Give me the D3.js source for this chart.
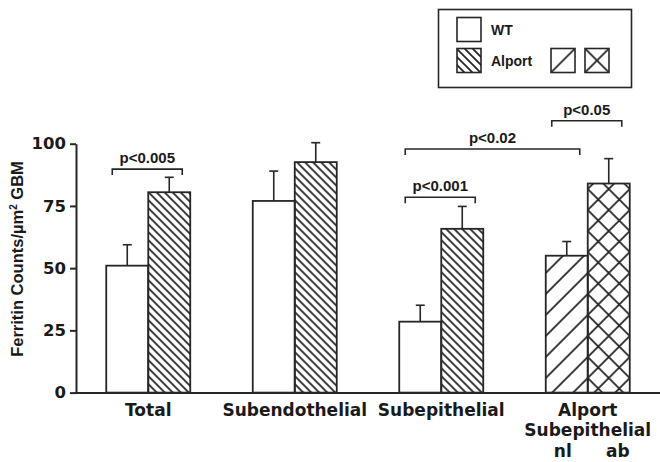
<!DOCTYPE html>
<html>
<head>
<meta charset="utf-8">
<script src="https://cdn.jsdelivr.net/npm/d3@7"></script>
<style>
  body { margin: 0; background: #fff; }
  text { fill: #1a1a1a; }
</style>
</head>
<body>
<div class="chart"></div>
<script>
// data
var categories = ["Total", "Subendothelial", "Subepithelial", "Alport Subepithelial"];
var leftMeans = [51, 77, 28.5, 55];
var leftSem = [8.4, 12, 6.6, 5.7];
var rightMeans = [80.5, 92.6, 65.8, 84];
var rightSem = [6, 7.8, 9, 10];
var leftFill = ["wt", "wt", "wt", "nl"];
var rightFill = ["alport", "alport", "alport", "ab"];
var subLabels = ["nl", "ab"];
var yTicks = [0, 25, 50, 75, 100];
// significance brackets: [group, bar] to [group, bar], at a level in y units
var brackets = [
  { from: [0, 0], to: [0, 1], level: 89.8, label: "p<0.005" },
  { from: [2, 0], to: [2, 1], level: 78.5, label: "p<0.001" },
  { from: [2, 0], to: [3, 0], level: 97.9, label: "p<0.02" },
  { from: [3, 0], to: [3, 1], level: 109.2, label: "p<0.05" }
];

var W = 660, H = 462;
var ink = "#262626";

var svg = d3.select(".chart").append("svg")
    .attr("width", W)
    .attr("height", H);

var defs = svg.append("defs");

// hatch patterns
var pAlport = defs.append("pattern")
    .attr("id", "alport")
    .attr("patternUnits", "userSpaceOnUse")
    .attr("width", 8).attr("height", 8);
pAlport.append("path")
    .attr("d", "M-1,-1L9,9M-3,5L3,11M5,-3L11,3")
    .attr("stroke", ink).attr("stroke-width", 1.8);

var pNl = defs.append("pattern")
    .attr("id", "nl")
    .attr("patternUnits", "userSpaceOnUse")
    .attr("width", 21).attr("height", 21);
pNl.append("path")
    .attr("d", "M-1,22L22,-1M-6,6L6,-6M15,27L27,15")
    .attr("stroke", ink).attr("stroke-width", 1.8);

var pAb = defs.append("pattern")
    .attr("id", "ab")
    .attr("patternUnits", "userSpaceOnUse")
    .attr("width", 21).attr("height", 21);
pAb.append("path")
    .attr("d", "M-1,22L22,-1M-6,6L6,-6M15,27L27,15M-1,-1L22,22M-6,15L6,27M15,-6L27,6")
    .attr("stroke", ink).attr("stroke-width", 1.8);

function fillOf(k) {
  return k == "wt" ? "#fff" : "url(#" + k + ")";
}

var x = d3.scaleBand()
    .domain(categories)
    .range([75, 661])
    .padding(0);

var inner = d3.scaleBand()
    .domain([0, 1])
    .range([-42, 42]);

var y = d3.scaleLinear()
    .domain([0, 100])
    .range([392.6, 143.7]);

function barCenter(g, b) {
  return x(categories[g]) + x.bandwidth() / 2 + inner(b) + inner.bandwidth() / 2;
}

// y axis
var yAxis = d3.axisLeft(y)
    .tickValues(yTicks)
    .tickSize(6)
    .tickSizeOuter(0)
    .tickPadding(4);

var gy = svg.append("g")
    .attr("transform", "translate(76,0)")
    .call(yAxis);
gy.select(".domain").attr("stroke", ink).attr("stroke-width", 2);
gy.selectAll(".tick line").attr("stroke", ink).attr("stroke-width", 2);
gy.selectAll(".tick text")
    .attr("font-family", "DejaVu Sans")
    .attr("font-weight", "bold")
    .attr("font-size", 16.5)
    .attr("fill", "#1a1a1a");

// y label
var ylab = svg.append("text")
    .attr("transform", "translate(23,259) rotate(-90)")
    .attr("text-anchor", "middle")
    .attr("font-family", "Liberation Sans, Arial")
    .attr("font-weight", "bold")
    .attr("font-size", 16.5);
ylab.append("tspan").text("Ferritin Counts/\u00b5m");
ylab.append("tspan").attr("font-size", 10).attr("dy", -6).text("2");
ylab.append("tspan").attr("dy", 6).text(" GBM");

// bars
var rows = categories.map(function (c, i) {
  return [
    { g: i, b: 0, v: leftMeans[i], e: leftSem[i], f: leftFill[i] },
    { g: i, b: 1, v: rightMeans[i], e: rightSem[i], f: rightFill[i] }
  ];
});

var groups = svg.selectAll(".grp")
    .data(rows)
  .enter().append("g")
    .attr("class", "grp")
    .attr("transform", function (d, i) { return "translate(" + (x(categories[i]) + x.bandwidth() / 2) + ",0)"; });

var bars = groups.selectAll(".bar")
    .data(function (d) { return d; })
  .enter().append("g")
    .attr("class", "bar");

// error bars (upper only)
bars.append("line")
    .attr("x1", function (d) { return inner(d.b) + inner.bandwidth() / 2; })
    .attr("x2", function (d) { return inner(d.b) + inner.bandwidth() / 2; })
    .attr("y1", function (d) { return y(d.v); })
    .attr("y2", function (d) { return y(d.v + d.e); })
    .attr("stroke", ink).attr("stroke-width", 1.6);
bars.append("line")
    .attr("x1", function (d) { return inner(d.b) + inner.bandwidth() / 2 - 4.5; })
    .attr("x2", function (d) { return inner(d.b) + inner.bandwidth() / 2 + 4.5; })
    .attr("y1", function (d) { return y(d.v + d.e); })
    .attr("y2", function (d) { return y(d.v + d.e); })
    .attr("stroke", ink).attr("stroke-width", 1.6);

bars.append("rect")
    .attr("x", function (d) { return inner(d.b); })
    .attr("width", inner.bandwidth())
    .attr("y", function (d) { return y(d.v); })
    .attr("height", function (d) { return y(0) - y(d.v); })
    .attr("fill", function (d) { return fillOf(d.f); })
    .attr("stroke", ink)
    .attr("stroke-width", 1.8);

// x axis (baseline)
var xAxis = d3.axisBottom(x).tickSize(0).tickSizeOuter(0).tickFormat("");
var gx = svg.append("g")
    .attr("transform", "translate(0," + y(0) + ")")
    .call(xAxis);
gx.select(".domain").attr("stroke", ink).attr("stroke-width", 2);

// category labels
var labs = svg.selectAll(".catlab")
    .data(categories)
  .enter().append("text")
    .attr("class", "catlab")
    .attr("text-anchor", "middle")
    .attr("font-family", "DejaVu Sans")
    .attr("font-weight", "bold")
    .attr("font-size", 17)
    .attr("x", function (d) { return x(d) + x.bandwidth() / 2; })
    .attr("y", 416);
labs.each(function (d) {
  var parts = d.split(" ");
  var t = d3.select(this);
  parts.forEach(function (p, i) {
    t.append("tspan")
        .attr("x", x(d) + x.bandwidth() / 2)
        .attr("dy", i == 0 ? 0 : 20)
        .text(p);
  });
});
svg.selectAll(".sublab")
    .data(subLabels)
  .enter().append("text")
    .attr("class", "sublab")
    .attr("text-anchor", "middle")
    .attr("font-family", "DejaVu Sans")
    .attr("font-weight", "bold")
    .attr("font-size", 17)
    .attr("x", function (d, i) { return barCenter(3, i) + (i == 0 ? -4 : 9); })
    .attr("y", 457)
    .text(function (d) { return d; });

// significance brackets
var br = svg.selectAll(".br")
    .data(brackets)
  .enter().append("g")
    .attr("class", "br");
br.append("path")
    .attr("d", function (d) {
      var x1 = barCenter(d.from[0], d.from[1]) - 15,
          x2 = barCenter(d.to[0], d.to[1]) + 13,
          yy = y(d.level);
      return "M" + x1 + "," + (yy + 6) + "V" + yy + "H" + x2 + "V" + (yy + 6);
    })
    .attr("fill", "none")
    .attr("stroke", ink)
    .attr("stroke-width", 1.6);
br.append("text")
    .attr("text-anchor", "middle")
    .attr("font-family", "Liberation Sans, Arial")
    .attr("font-weight", "bold")
    .attr("font-size", 15)
    .attr("x", function (d) {
      return (barCenter(d.from[0], d.from[1]) - 15 + barCenter(d.to[0], d.to[1]) + 13) / 2;
    })
    .attr("y", function (d) { return y(d.level) - 6; })
    .text(function (d) { return d.label; });

// legend
var lg = svg.append("g");
lg.append("rect")
    .attr("x", 438.5).attr("y", 9.5)
    .attr("width", 193).attr("height", 78)
    .attr("fill", "#fff").attr("stroke", ink).attr("stroke-width", 1.6);

var legPat = defs.append("pattern")
    .attr("id", "nlLeg").attr("patternUnits", "userSpaceOnUse")
    .attr("x", 551).attr("y", 48.5).attr("width", 24).attr("height", 24);
legPat.append("path").attr("d", "M0,24L24,0").attr("stroke", ink).attr("stroke-width", 1.8);
var legPat2 = defs.append("pattern")
    .attr("id", "abLeg").attr("patternUnits", "userSpaceOnUse")
    .attr("x", 585).attr("y", 48.5).attr("width", 24).attr("height", 24);
legPat2.append("path").attr("d", "M0,24L24,0M0,0L24,24").attr("stroke", ink).attr("stroke-width", 1.8);

var legItems = [
  { x: 457, y: 17.5, f: "#fff" },
  { x: 457, y: 48.5, f: "url(#alport)" },
  { x: 551, y: 48.5, f: "url(#nlLeg)" },
  { x: 585, y: 48.5, f: "url(#abLeg)" }
];
lg.selectAll(".lsq")
    .data(legItems)
  .enter().append("rect")
    .attr("x", function (d) { return d.x; })
    .attr("y", function (d) { return d.y; })
    .attr("width", 24).attr("height", 24)
    .attr("fill", function (d) { return d.f; })
    .attr("stroke", ink).attr("stroke-width", 1.6);

lg.selectAll(".ltx")
    .data(["WT", "Alport"])
  .enter().append("text")
    .attr("x", 491)
    .attr("y", function (d, i) { return 34.5 + i * 31; })
    .attr("font-family", "Liberation Sans, Arial")
    .attr("font-weight", "bold")
    .attr("font-size", 14)
    .text(function (d) { return d; });
</script>
</body>
</html>
